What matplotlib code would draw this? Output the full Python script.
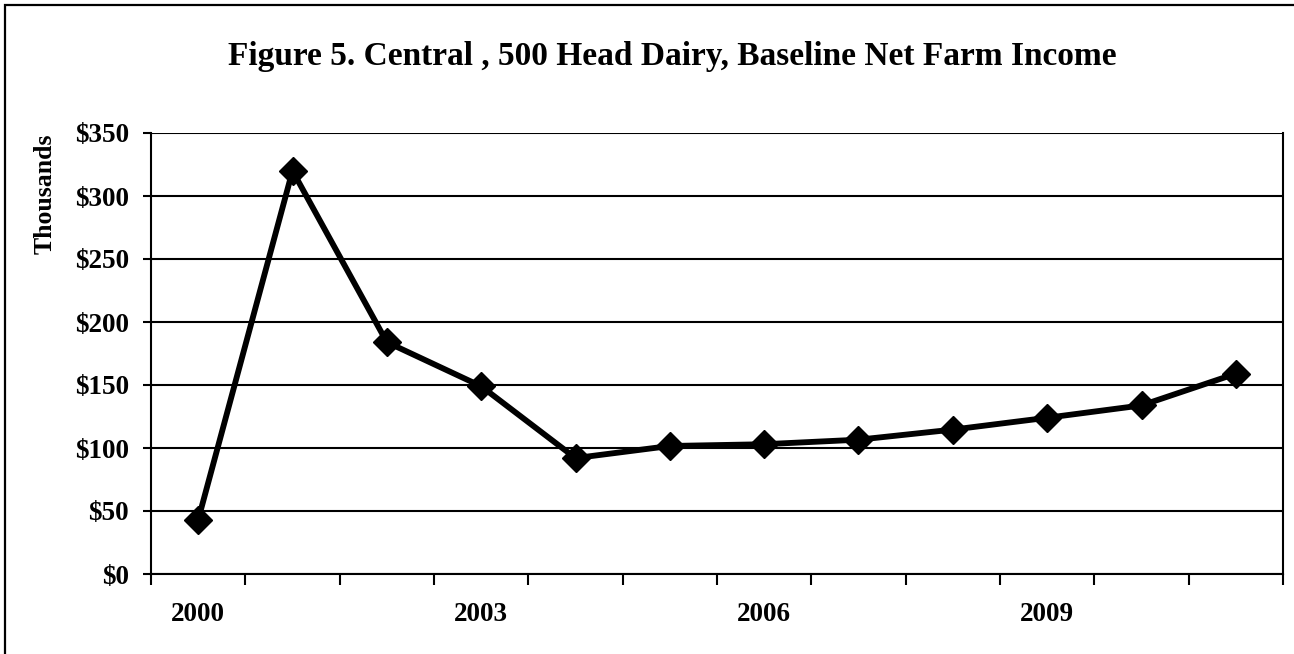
import matplotlib.pyplot as plt
from matplotlib.patches import Rectangle
from matplotlib.ticker import FixedLocator, FuncFormatter

years = [2000, 2001, 2002, 2003, 2004, 2005, 2006, 2007, 2008, 2009, 2010, 2011]
net_income = [43, 320, 184, 149, 92, 101.6, 103, 106.6, 114.6, 124, 133.8, 159]  # thousands of $
labeled_years = [2000, 2003, 2006, 2009]
y_ticks = [0, 50, 100, 150, 200, 250, 300, 350]

plt.rcParams['font.family'] = ['Liberation Serif', 'DejaVu Serif']
plt.rcParams['font.weight'] = 'bold'

W, H = 1294, 654
fig = plt.figure(figsize=(W / 100, H / 100), dpi=100)
ax = fig.add_axes([151 / W, (H - 574) / H, (1283 - 151) / W, (574 - 133) / H])

x = list(range(len(years)))
ax.plot(x, net_income, color='black', lw=4.2, marker='D', ms=14,
        mfc='black', mec='black', zorder=3, clip_on=False)

ax.set_xlim(-0.5, len(years) - 0.5)
ax.set_ylim(0, 350)

# category labels every third year, tick marks at the category boundaries
ax.xaxis.set_major_locator(FixedLocator([years.index(y) for y in labeled_years]))
ax.xaxis.set_major_formatter(FuncFormatter(lambda v, p: str(years[int(round(v))])))
ax.xaxis.set_minor_locator(FixedLocator([i - 0.5 for i in range(len(years) + 1)]))
ax.tick_params(axis='x', which='major', length=0, pad=20, labelsize=19.5)
ax.tick_params(axis='x', which='minor', length=8, width=1.5, direction='out', color='black')

ax.set_yticks(y_ticks)
ax.yaxis.set_major_formatter(FuncFormatter(lambda v, p: f'${v:,.0f}'))
ax.tick_params(axis='y', length=6, width=1.5, direction='out', pad=10, labelsize=19.5)

ax.yaxis.grid(True, color='black', lw=1.5)
ax.set_axisbelow(True)
for side in ['left', 'bottom', 'right']:
    ax.spines[side].set_linewidth(1.5)
ax.spines['top'].set_visible(False)

fig.text(45 / W, 1 - 194 / H, 'Thousands', rotation=90, ha='center', va='center',
         fontsize=18.5, fontweight='bold')
fig.text(672 / W, 1 - 57 / H, 'Figure 5. Central , 500 Head Dairy, Baseline Net Farm Income',
         ha='center', va='center', fontsize=24, fontweight='bold')

# chart border (runs off the right and bottom edges)
fig.patches.append(Rectangle((5 / W, -0.1), 1.2, 1.1 - 5 / H, transform=fig.transFigure,
                             fill=False, ec='black', lw=1.6))

fig.savefig('out.png', dpi=100)
